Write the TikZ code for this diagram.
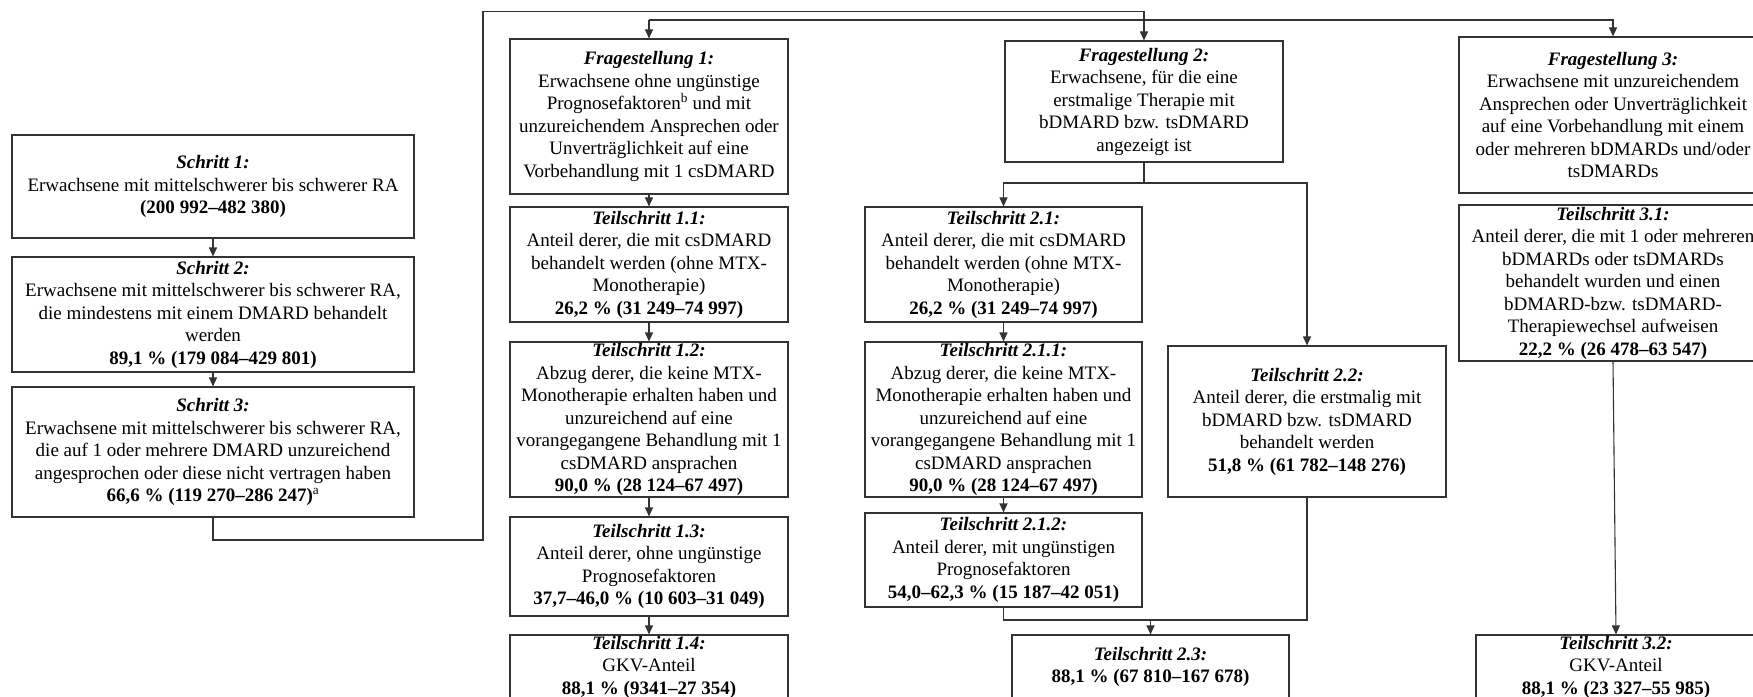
\documentclass[tikz,border=0pt]{standalone}
\usepackage{fontspec}
\setmainfont{Liberation Serif}
\usetikzlibrary{arrows.meta}
\definecolor{linec}{HTML}{333333}
\newcommand\hd[1]{\textbf{\textit{#1}}}
\begin{document}
\begin{tikzpicture}[x=1bp,y=-1bp,
  box/.style={draw=linec, line width=1.1bp, align=center, inner sep=0pt,
    font=\fontsize{19bp}{22.5bp}\selectfont},
  arr/.style={draw=linec, line width=1.1bp, -{Triangle[length=9bp,width=8bp]}},
  ln/.style={draw=linec, line width=1.1bp}]
\useasboundingbox (0,0) rectangle (1753,697);
\clip (0,0) rectangle (1753,697);

% left column
\node[box, minimum width=402bp, minimum height=103bp] (s1) at (213,186.5)
  {\hd{Schritt 1:}\\Erwachsene mit mittelschwerer bis schwerer RA\\\textbf{(200~992–482~380)}};
\node[box, minimum width=402bp, minimum height=115bp] (s2) at (213,314.5)
  {\hd{Schritt 2:}\\Erwachsene mit mittelschwerer bis schwerer RA,\\die mindestens mit einem DMARD behandelt\\werden\\\textbf{89,1~\% (179~084–429~801)}};
\node[box, minimum width=402bp, minimum height=130bp] (s3) at (213,452)
  {\hd{Schritt 3:}\\Erwachsene mit mittelschwerer bis schwerer RA,\\die auf 1 oder mehrere DMARD unzureichend\\angesprochen oder diese nicht vertragen haben\\\textbf{66,6~\% (119~270–286~247)}\textsuperscript{a}};

% column 1
\node[box, minimum width=278bp, minimum height=155bp] (f1) at (649,116.5)
  {\hd{Fragestellung 1:}\\Erwachsene ohne ungünstige\\Prognosefaktoren\textsuperscript{b} und mit\\unzureichendem Ansprechen oder\\Unverträglichkeit auf eine\\Vorbehandlung mit 1 csDMARD};
\node[box, minimum width=278bp, minimum height=115bp] (t11) at (649,264.5)
  {\hd{Teilschritt 1.1:}\\Anteil derer, die mit csDMARD\\behandelt werden (ohne MTX-\\Monotherapie)\\\textbf{26,2~\% (31~249–74~997)}};
\node[box, minimum width=278bp, minimum height=155bp] (t12) at (649,419.5)
  {\hd{Teilschritt 1.2:}\\Abzug derer, die keine MTX-\\Monotherapie erhalten haben und\\unzureichend auf eine\\vorangegangene Behandlung mit 1\\csDMARD ansprachen\\\textbf{90,0~\% (28~124–67~497)}};
\node[box, minimum width=278bp, minimum height=99bp] (t13) at (649,566.5)
  {\hd{Teilschritt 1.3:}\\Anteil derer, ohne ungünstige\\Prognosefaktoren\\\textbf{37,7–46,0~\% (10~603–31~049)}};
\node[box, minimum width=278bp, minimum height=64bp] (t14) at (649,667)
  {\hd{Teilschritt 1.4:}\\GKV-Anteil\\\textbf{88,1~\% (9341–27~354)}};

% column 2
\node[box, minimum width=278bp, minimum height=121bp] (f2) at (1144,101.5)
  {\hd{Fragestellung 2:}\\Erwachsene, für die eine\\erstmalige Therapie mit\\bDMARD bzw. tsDMARD\\angezeigt ist};
\node[box, minimum width=277bp, minimum height=115bp] (t21) at (1003.5,264.5)
  {\hd{Teilschritt 2.1:}\\Anteil derer, die mit csDMARD\\behandelt werden (ohne MTX-\\Monotherapie)\\\textbf{26,2~\% (31~249–74~997)}};
\node[box, minimum width=277bp, minimum height=155bp] (t211) at (1003.5,419.5)
  {\hd{Teilschritt 2.1.1:}\\Abzug derer, die keine MTX-\\Monotherapie erhalten haben und\\unzureichend auf eine\\vorangegangene Behandlung mit 1\\csDMARD ansprachen\\\textbf{90,0~\% (28~124–67~497)}};
\node[box, minimum width=277bp, minimum height=94bp] (t212) at (1003.5,560)
  {\hd{Teilschritt 2.1.2:}\\Anteil derer, mit ungünstigen\\Prognosefaktoren\\\textbf{54,0–62,3~\% (15~187–42~051)}};
\node[box, minimum width=278bp, minimum height=151bp] (t22) at (1307,421.5)
  {\hd{Teilschritt 2.2:}\\Anteil derer, die erstmalig mit\\bDMARD bzw. tsDMARD\\behandelt werden\\\textbf{51,8~\% (61~782–148~276)}};
\node[box, minimum width=277bp, minimum height=64bp] (t23) at (1150.5,667)
  {\hd{Teilschritt 2.3:}\\\textbf{88,1~\% (67~810–167~678)}};

% column 3
\node[box, minimum width=308bp, minimum height=156bp] (f3) at (1613,115)
  {\hd{Fragestellung 3:}\\Erwachsene mit unzureichendem\\Ansprechen oder Unverträglichkeit\\auf eine Vorbehandlung mit einem\\oder mehreren bDMARDs und/oder\\tsDMARDs};
\node[box, minimum width=308bp, minimum height=156bp] (t31) at (1613,283)
  {\hd{Teilschritt 3.1:}\\Anteil derer, die mit 1 oder mehreren\\bDMARDs oder tsDMARDs\\behandelt wurden und einen\\bDMARD-bzw. tsDMARD-\\Therapiewechsel aufweisen\\\textbf{22,2~\% (26~478–63~547)}};
\node[box, minimum width=280bp, minimum height=64bp] (t32) at (1616,667)
  {\hd{Teilschritt 3.2:}\\GKV-Anteil\\\textbf{88,1~\% (23~327–55~985)}};

% connectors
\draw[arr] (s1) -- (s2);
\draw[arr] (s2) -- (s3);
\draw[arr] (s3.south) -- (213,540) -- (483,540) -- (483,11.7) -| (f2.north);
\coordinate (top2) at (649,20);
\draw[arr] (top2) -- (f1.north);
\draw[arr] (top2) -| (f3.north);
\draw[arr] (f1) -- (t11);
\draw[arr] (t11) -- (t12);
\draw[arr] (t12) -- (t13);
\draw[arr] (t13) -- (t14);
\coordinate (f2b) at (1144,183);
\draw[ln] (f2.south) -- (f2b);
\draw[arr] (f2b) -| (t21.north);
\draw[arr] (f2b) -| (t22.north);
\draw[arr] (t21) -- (t211);
\draw[arr] (t211) -- (t212);
\coordinate (m23) at (1150.5,620);
\draw[ln] (t212.south) |- (m23);
\draw[ln] (t22.south) |- (m23);
\draw[arr] (m23) -- (t23.north);
\draw[arr] (t31.south) -- (t32.north);
\end{tikzpicture}
\end{document}
